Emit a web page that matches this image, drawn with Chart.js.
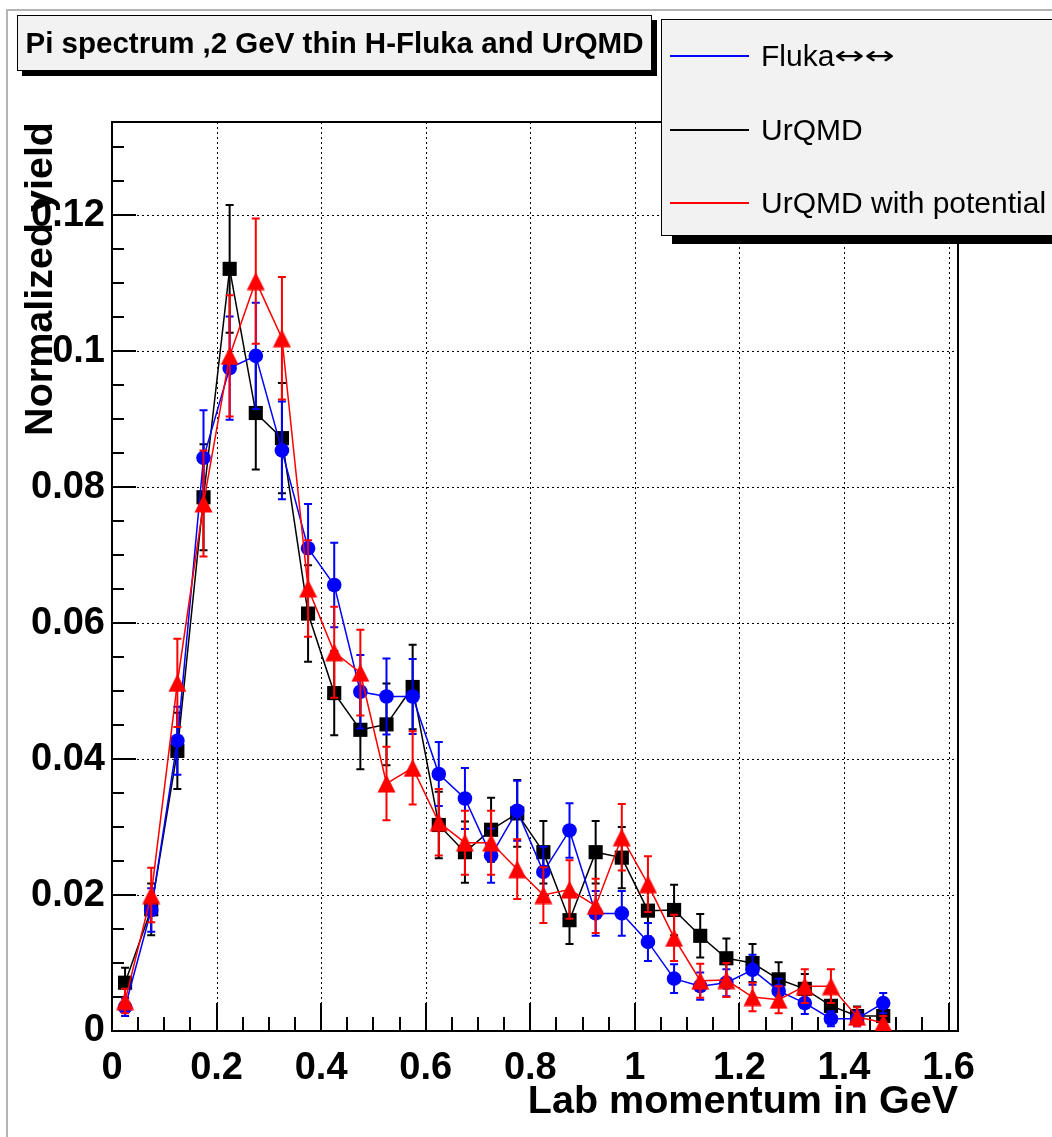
<!DOCTYPE html>
<html>
<head>
<meta charset="utf-8">
<script src="https://cdn.jsdelivr.net/npm/chart.js@4/dist/chart.umd.min.js"></script>
<style>
  html, body { margin:0; padding:0; background:#fff; overflow:hidden; }
  #wrap { position:relative; width:1052px; height:1137px; }
  #c { position:absolute; left:0; top:0; }
  #pad { position:absolute; left:6px; top:9px; width:1100px; height:1200px; border-left:2px solid #b4b4b4; border-top:2px solid #b4b4b4; pointer-events:none; }
  #title { position:absolute; left:17px; top:15px; width:633px; height:54px; background:#f2f2f2; border:1px solid #000;
           box-shadow:5px 5px 0 #000; font-family:'Liberation Sans', Arial, sans-serif; font-weight:bold; font-size:29.5px;
           display:flex; align-items:center; justify-content:center; white-space:nowrap; color:#000; }
  #legend { position:absolute; left:661px; top:19px; width:420px; height:215px; background:#f2f2f2; border:1px solid #000;
            box-shadow:11px 8px 0 #000; font-family:'Liberation Sans', Arial, sans-serif; font-size:30px; color:#000; }
  .entry { position:absolute; left:0; height:40px; width:400px; }
  .entry .ln { position:absolute; left:8px; width:79px; top:19px; height:2px; }
  .entry .tx { position:absolute; left:99px; top:0; line-height:40px; white-space:nowrap; }
  .arr { font-size:36px; font-family:'DejaVu Sans', sans-serif; display:inline-block; transform:scaleY(0.7); vertical-align:-2px; }
</style>
</head>
<body>
<div id="wrap">
  <canvas id="c" width="1052" height="1137"></canvas>
  <div id="pad"></div>
  <div id="title">Pi spectrum ,2 GeV thin H-Fluka and UrQMD</div>
  <div id="legend">
    <div class="entry" style="top:16px"><div class="ln" style="background:#0000ff"></div><div class="tx">Fluka<span class="arr">↔↔</span></div></div>
    <div class="entry" style="top:90px"><div class="ln" style="background:#000000"></div><div class="tx">UrQMD</div></div>
    <div class="entry" style="top:163px"><div class="ln" style="background:#ff0000"></div><div class="tx">UrQMD with potential</div></div>
  </div>
</div>
<script>
// ---- data ----
const binCenters = [0.025,0.075,0.125,0.175,0.225,0.275,0.325,0.375,0.425,0.475,
                    0.525,0.575,0.625,0.675,0.725,0.775,0.825,0.875,0.925,0.975,
                    1.025,1.075,1.125,1.175,1.225,1.275,1.325,1.375,1.425,1.475];

const flukaYield = [0.0035,0.0178,0.0427,0.0843,0.0975,0.0993,0.0854,0.0710,0.0656,0.0499,
                    0.0492,0.0492,0.0378,0.0342,0.0258,0.0324,0.0234,0.0295,0.0173,0.0173,
                    0.0131,0.0077,0.0066,0.0071,0.0090,0.0059,0.0041,0.0018,0.0018,0.0041];
const flukaError = [0.0013,0.0032,0.0050,0.0070,0.0076,0.0078,0.0072,0.0065,0.0062,0.0054,
                    0.0056,0.0055,0.0047,0.0045,0.0040,0.0044,0.0037,0.0040,0.0033,0.0033,
                    0.0028,0.0021,0.0020,0.0020,0.0022,0.0018,0.0016,0.0011,0.0011,0.0015];

const urqmdYield = [0.0071,0.0179,0.0412,0.0785,0.1121,0.0909,0.0872,0.0614,0.0497,0.0443,
                    0.0451,0.0506,0.0303,0.0263,0.0296,0.0320,0.0263,0.0163,0.0263,0.0255,
                    0.0177,0.0178,0.0140,0.0107,0.0100,0.0076,0.0062,0.0037,0.0022,0.0022];
const urqmdError = [0.0022,0.0038,0.0056,0.0078,0.0094,0.0083,0.0081,0.0071,0.0062,0.0058,
                    0.0060,0.0062,0.0049,0.0045,0.0047,0.0049,0.0046,0.0035,0.0046,0.0045,
                    0.0038,0.0037,0.0032,0.0029,0.0028,0.0025,0.0022,0.0019,0.0014,0.0014];

const urqmdPotYield = [0.0044,0.0200,0.0512,0.0776,0.0993,0.1103,0.1019,0.0651,0.0557,0.0527,
                       0.0364,0.0387,0.0307,0.0277,0.0277,0.0238,0.0200,0.0208,0.0184,0.0285,
                       0.0216,0.0137,0.0074,0.0075,0.0050,0.0046,0.0066,0.0066,0.0021,0.0012];
const urqmdPotError = [0.0018,0.0040,0.0065,0.0078,0.0089,0.0092,0.0090,0.0071,0.0067,0.0063,
                       0.0054,0.0054,0.0049,0.0047,0.0047,0.0044,0.0041,0.0043,0.0040,0.0049,
                       0.0041,0.0034,0.0025,0.0025,0.0021,0.0020,0.0025,0.0025,0.0014,0.0010];

const xMajorTicks = [0,0.2,0.4,0.6,0.8,1.0,1.2,1.4,1.6];
const xTickLabels = ['0','0.2','0.4','0.6','0.8','1','1.2','1.4','1.6'];
const yMajorTicks = [0,0.02,0.04,0.06,0.08,0.10,0.12];
const yTickLabels = ['0','0.02','0.04','0.06','0.08','0.1','0.12'];
const xAxisTitle = 'Lab momentum in GeV';
const yAxisTitle = 'Normalized yield';

// ---- styling helpers ----
const X_MIN = 0, X_MAX = 1.618, Y_MIN = 0, Y_MAX = 0.1337;
const xMinorStep = 0.05, yMinorStep = 0.005;

function triangleMarker(color, size) {
  const c = document.createElement('canvas');
  c.width = size; c.height = size;
  const g = c.getContext('2d');
  g.fillStyle = color;
  g.beginPath();
  g.moveTo(size/2, 0.5);
  g.lineTo(size - 0.5, size - 0.5);
  g.lineTo(0.5, size - 0.5);
  g.closePath();
  g.fill();
  return c;
}

function pts(vals) { return binCenters.map((x, i) => ({x: x, y: vals[i]})); }

const axesPlugin = {
  id: 'rootAxes',
  beforeDatasetsDraw(chart) {
    const {ctx, chartArea: {left, right, top, bottom}, scales: {x, y}} = chart;
    ctx.save();
    ctx.strokeStyle = '#000';
    ctx.lineWidth = 1;
    ctx.setLineDash([2, 3]);
    xMajorTicks.forEach(v => {
      if (v <= X_MIN) return;
      const px = Math.round(x.getPixelForValue(v)) + 0.5;
      ctx.beginPath(); ctx.moveTo(px, top); ctx.lineTo(px, bottom); ctx.stroke();
    });
    yMajorTicks.forEach(v => {
      if (v <= Y_MIN) return;
      const py = Math.round(y.getPixelForValue(v)) + 0.5;
      ctx.beginPath(); ctx.moveTo(left, py); ctx.lineTo(right, py); ctx.stroke();
    });
    ctx.setLineDash([]);
    ctx.lineWidth = 2;
    ctx.strokeRect(left, top, right - left, bottom - top);
    for (let v = X_MIN; v <= 1.6 + 1e-9; v += xMinorStep) {
      const isMajor = xMajorTicks.some(t => Math.abs(t - v) < 1e-6);
      const px = Math.round(x.getPixelForValue(v));
      const len = isMajor ? 28 : 14;
      ctx.beginPath(); ctx.moveTo(px, bottom); ctx.lineTo(px, bottom - len); ctx.stroke();
    }
    for (let v = Y_MIN; v <= Y_MAX + 1e-9; v += yMinorStep) {
      const isMajor = yMajorTicks.some(t => Math.abs(t - v) < 1e-6);
      const py = Math.round(y.getPixelForValue(v));
      const len = isMajor ? 24 : 12;
      ctx.beginPath(); ctx.moveTo(left, py); ctx.lineTo(left + len, py); ctx.stroke();
    }
    ctx.restore();
  },
  beforeDatasetDraw(chart, args) {
    const ds = chart.data.datasets[args.index];
    if (!ds.errors) return;
    const {ctx, scales: {x, y}} = chart;
    ctx.save();
    ctx.strokeStyle = ds.borderColor;
    ctx.lineWidth = 2;
    ds.data.forEach((p, i) => {
      const e = ds.errors[i];
      const px = x.getPixelForValue(p.x);
      const y1 = y.getPixelForValue(p.y + e);
      const y2 = y.getPixelForValue(p.y - e);
      ctx.beginPath();
      ctx.moveTo(px, y1); ctx.lineTo(px, y2);
      ctx.moveTo(px - 4, y1); ctx.lineTo(px + 4, y1);
      ctx.moveTo(px - 4, y2); ctx.lineTo(px + 4, y2);
      ctx.stroke();
    });
    ctx.restore();
  }
};

const tickFont = {family: "'Liberation Sans', Arial, sans-serif", weight: 'bold', size: 38};
const titleFont = {family: "'Liberation Sans', Arial, sans-serif", weight: 'bold', size: 39.5};

new Chart(document.getElementById('c'), {
  type: 'line',
  data: {
    datasets: [
      { label: 'UrQMD with potential', data: pts(urqmdPotYield), errors: urqmdPotError, order: 0,
        borderColor: '#ff0000', backgroundColor: '#ff0000', borderWidth: 1.5,
        pointStyle: triangleMarker('#ff0000', 19), pointRadius: 9.5 },
      { label: 'Fluka', data: pts(flukaYield), errors: flukaError, order: 1,
        borderColor: '#0000ff', backgroundColor: '#0000ff', borderWidth: 1.5,
        pointStyle: 'circle', pointRadius: 7.3, pointBorderWidth: 0 },
      { label: 'UrQMD', data: pts(urqmdYield), errors: urqmdError, order: 2,
        borderColor: '#000000', backgroundColor: '#000000', borderWidth: 1.5,
        pointStyle: 'rect', pointRadius: 10, pointBorderWidth: 0 }
    ]
  },
  options: {
    responsive: false,
    animation: false,
    devicePixelRatio: 1,
    layout: { padding: { left: 0, top: 122, right: 94, bottom: 0 } },
    plugins: { legend: { display: false }, title: { display: false }, tooltip: { enabled: false } },
    elements: { line: { tension: 0, fill: false } },
    scales: {
      x: {
        type: 'linear', min: X_MIN, max: X_MAX,
        afterBuildTicks: s => { s.ticks = xMajorTicks.map(v => ({value: v})); },
        afterFit: s => { s.height = 106; },
        grid: { display: false, drawTicks: false },
        border: { display: false },
        ticks: { autoSkip: false, maxRotation: 0, padding: 15, color: '#000', font: tickFont,
                 callback: (v, i) => xTickLabels[i] },
        title: { display: true, text: xAxisTitle, align: 'end', color: '#000', font: titleFont,
                 padding: { top: 0, bottom: 11 } }
      },
      y: {
        type: 'linear', min: Y_MIN, max: Y_MAX,
        afterBuildTicks: s => { s.ticks = yMajorTicks.map(v => ({value: v})); },
        afterFit: s => { s.width = 112; },
        grid: { display: false, drawTicks: false },
        border: { display: false },
        ticks: { autoSkip: false, padding: 7, color: '#000', font: tickFont,
                 callback: (v, i) => yTickLabels[i] },
        title: { display: true, text: yAxisTitle, align: 'end', color: '#000', font: titleFont,
                 padding: { top: 17, bottom: 0 } }
      }
    }
  },
  plugins: [axesPlugin]
});
</script>
</body>
</html>
